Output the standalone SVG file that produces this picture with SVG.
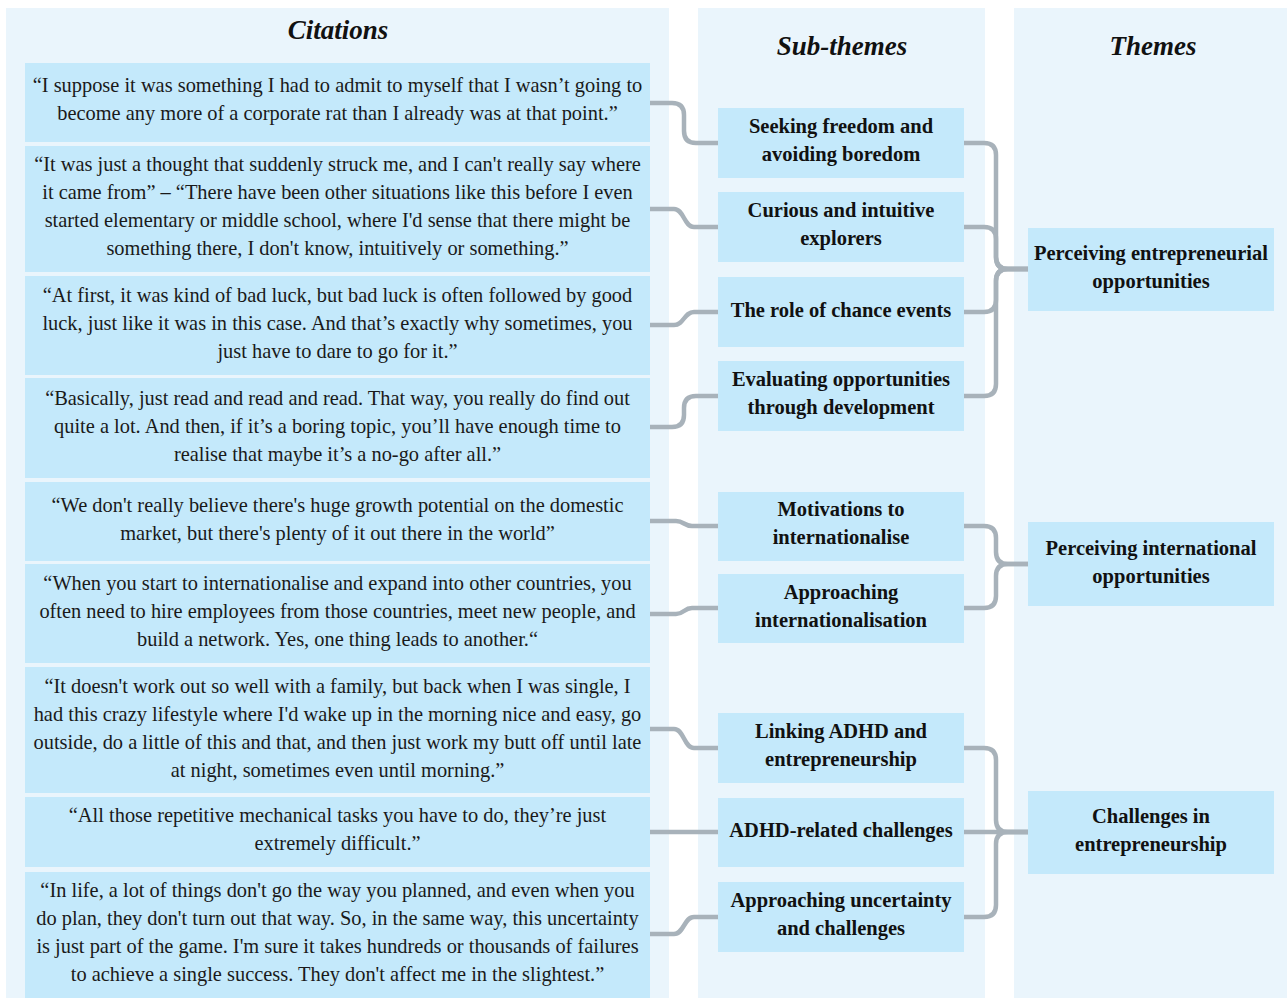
<svg xmlns="http://www.w3.org/2000/svg" width="1287" height="998" viewBox="0 0 1287 998">
  <style>
    .panel { fill: #EAF5FC; }
    .box { fill: #C4E9FB; }
    .hdr { font-family: "Liberation Serif", "Times New Roman", serif; font-size: 27px; font-weight: bold; font-style: italic; fill: #111; text-anchor: middle; }
    .cit { font-family: "Liberation Serif", "Times New Roman", serif; font-size: 20.4px; fill: #1a1a1a; text-anchor: middle; }
    .lbl { font-family: "Liberation Serif", "Times New Roman", serif; font-size: 20.5px; font-weight: bold; fill: #111; text-anchor: middle; }
    .link { fill: none; stroke: #A8B2BA; stroke-width: 4.5; stroke-linecap: round; stroke-linejoin: round; }
  </style>

  <!-- column panels -->
  <g id="panels">
    <rect class="panel" x="6" y="8" width="663" height="990"/>
    <rect class="panel" x="698" y="8" width="287" height="990"/>
    <rect class="panel" x="1014" y="8" width="273" height="990"/>
    <text class="hdr" x="338" y="39">Citations</text>
    <text class="hdr" x="842" y="55">Sub-themes</text>
    <text class="hdr" x="1153" y="55">Themes</text>
  </g>

  <!-- connectors -->
  <g id="connectors">
    <!-- citations to sub-themes -->
    <path class="link" d="M650 103 H672 Q684 103 684 115 V131 Q684 143 696 143 H718"/>
    <path class="link" d="M650 209 H674 C684 209 684 227 694 227 H718"/>
    <path class="link" d="M650 325 H674 C684 325 684 312 694 312 H718"/>
    <path class="link" d="M650 427 H672 Q684 427 684 415 V408 Q684 396 696 396 H718"/>
    <path class="link" d="M650 521 H676 C684 521 684 526 692 526 H718"/>
    <path class="link" d="M650 614 H676 C684 614 684 608 692 608 H718"/>
    <path class="link" d="M650 729 H674 C684 729 684 748 694 748 H718"/>
    <path class="link" d="M650 832 H718"/>
    <path class="link" d="M650 934 H674 C684 934 684 917 694 917 H718"/>
    <!-- sub-themes to themes -->
    <path class="link" d="M964 143 H984 Q996 143 996 155 V257 Q996 269 1008 269 H1028"/>
    <path class="link" d="M964 227 H984 Q996 227 996 239 V257 Q996 269 1008 269 H1028"/>
    <path class="link" d="M964 312 H984 Q996 312 996 300 V281 Q996 269 1008 269 H1028"/>
    <path class="link" d="M964 396 H984 Q996 396 996 384 V281 Q996 269 1008 269 H1028"/>
    <path class="link" d="M964 526 H984 Q996 526 996 538 V552 Q996 564 1008 564 H1028"/>
    <path class="link" d="M964 608 H984 Q996 608 996 596 V576 Q996 564 1008 564 H1028"/>
    <path class="link" d="M964 748 H984 Q996 748 996 760 V820 Q996 832 1008 832 H1028"/>
    <path class="link" d="M964 832 H1028"/>
    <path class="link" d="M964 917 H984 Q996 917 996 905 V844 Q996 832 1008 832 H1028"/>
  </g>

  <!-- citations -->
  <g id="cit1">
    <rect class="box" x="25" y="63" width="625" height="79"/>
    <text class="cit" x="337.5" y="92">“I suppose it was something I had to admit to myself that I wasn’t going to</text>
    <text class="cit" x="337.5" y="120">become any more of a corporate rat than I already was at that point.”</text>
  </g>
  <g id="cit2">
    <rect class="box" x="25" y="146" width="625" height="126"/>
    <text class="cit" x="337.5" y="171">“It was just a thought that suddenly struck me, and I can't really say where</text>
    <text class="cit" x="337.5" y="199">it came from” – “There have been other situations like this before I even</text>
    <text class="cit" x="337.5" y="227">started elementary or middle school, where I'd sense that there might be</text>
    <text class="cit" x="337.5" y="255">something there, I don't know, intuitively or something.”</text>
  </g>
  <g id="cit3">
    <rect class="box" x="25" y="276" width="625" height="99"/>
    <text class="cit" x="337.5" y="302">“At first, it was kind of bad luck, but bad luck is often followed by good</text>
    <text class="cit" x="337.5" y="330">luck, just like it was in this case. And that’s exactly why sometimes, you</text>
    <text class="cit" x="337.5" y="358">just have to dare to go for it.”</text>
  </g>
  <g id="cit4">
    <rect class="box" x="25" y="378" width="625" height="100"/>
    <text class="cit" x="337.5" y="405">“Basically, just read and read and read. That way, you really do find out</text>
    <text class="cit" x="337.5" y="433">quite a lot. And then, if it’s a boring topic, you’ll have enough time to</text>
    <text class="cit" x="337.5" y="461">realise that maybe it’s a no-go after all.”</text>
  </g>
  <g id="cit5">
    <rect class="box" x="25" y="482" width="625" height="79"/>
    <text class="cit" x="337.5" y="512">“We don't really believe there's huge growth potential on the domestic</text>
    <text class="cit" x="337.5" y="540">market, but there's plenty of it out there in the world”</text>
  </g>
  <g id="cit6">
    <rect class="box" x="25" y="564" width="625" height="99"/>
    <text class="cit" x="337.5" y="590">“When you start to internationalise and expand into other countries, you</text>
    <text class="cit" x="337.5" y="618">often need to hire employees from those countries, meet new people, and</text>
    <text class="cit" x="337.5" y="646">build a network. Yes, one thing leads to another.“</text>
  </g>
  <g id="cit7">
    <rect class="box" x="25" y="667" width="625" height="126"/>
    <text class="cit" x="337.5" y="693">“It doesn't work out so well with a family, but back when I was single, I</text>
    <text class="cit" x="337.5" y="721">had this crazy lifestyle where I'd wake up in the morning nice and easy, go</text>
    <text class="cit" x="337.5" y="749">outside, do a little of this and that, and then just work my butt off until late</text>
    <text class="cit" x="337.5" y="777">at night, sometimes even until morning.”</text>
  </g>
  <g id="cit8">
    <rect class="box" x="25" y="797" width="625" height="70"/>
    <text class="cit" x="337.5" y="822">“All those repetitive mechanical tasks you have to do, they’re just</text>
    <text class="cit" x="337.5" y="850">extremely difficult.”</text>
  </g>
  <g id="cit9">
    <rect class="box" x="25" y="872" width="625" height="126"/>
    <text class="cit" x="337.5" y="897">“In life, a lot of things don't go the way you planned, and even when you</text>
    <text class="cit" x="337.5" y="925">do plan, they don't turn out that way. So, in the same way, this uncertainty</text>
    <text class="cit" x="337.5" y="953">is just part of the game. I'm sure it takes hundreds or thousands of failures</text>
    <text class="cit" x="337.5" y="981">to achieve a single success. They don't affect me in the slightest.”</text>
  </g>

  <!-- sub-themes -->
  <g id="sub1">
    <rect class="box" x="718" y="108" width="246" height="70"/>
    <text class="lbl" x="841" y="133">Seeking freedom and</text>
    <text class="lbl" x="841" y="161">avoiding boredom</text>
  </g>
  <g id="sub2">
    <rect class="box" x="718" y="192" width="246" height="70"/>
    <text class="lbl" x="841" y="217">Curious and intuitive</text>
    <text class="lbl" x="841" y="245">explorers</text>
  </g>
  <g id="sub3">
    <rect class="box" x="718" y="277" width="246" height="70"/>
    <text class="lbl" x="841" y="317">The role of chance events</text>
  </g>
  <g id="sub4">
    <rect class="box" x="718" y="361" width="246" height="70"/>
    <text class="lbl" x="841" y="386">Evaluating opportunities</text>
    <text class="lbl" x="841" y="414">through development</text>
  </g>
  <g id="sub5">
    <rect class="box" x="718" y="492" width="246" height="69"/>
    <text class="lbl" x="841" y="516">Motivations to</text>
    <text class="lbl" x="841" y="544">internationalise</text>
  </g>
  <g id="sub6">
    <rect class="box" x="718" y="574" width="246" height="69"/>
    <text class="lbl" x="841" y="599">Approaching</text>
    <text class="lbl" x="841" y="627">internationalisation</text>
  </g>
  <g id="sub7">
    <rect class="box" x="718" y="713" width="246" height="70"/>
    <text class="lbl" x="841" y="738">Linking ADHD and</text>
    <text class="lbl" x="841" y="766">entrepreneurship</text>
  </g>
  <g id="sub8">
    <rect class="box" x="718" y="798" width="246" height="69"/>
    <text class="lbl" x="841" y="837">ADHD-related challenges</text>
  </g>
  <g id="sub9">
    <rect class="box" x="718" y="882" width="246" height="70"/>
    <text class="lbl" x="841" y="907">Approaching uncertainty</text>
    <text class="lbl" x="841" y="935">and challenges</text>
  </g>

  <!-- themes -->
  <g id="theme1">
    <rect class="box" x="1028" y="228" width="246" height="83"/>
    <text class="lbl" x="1151" y="260">Perceiving entrepreneurial</text>
    <text class="lbl" x="1151" y="288">opportunities</text>
  </g>
  <g id="theme2">
    <rect class="box" x="1028" y="522" width="246" height="84"/>
    <text class="lbl" x="1151" y="555">Perceiving international</text>
    <text class="lbl" x="1151" y="583">opportunities</text>
  </g>
  <g id="theme3">
    <rect class="box" x="1028" y="791" width="246" height="83"/>
    <text class="lbl" x="1151" y="823">Challenges in</text>
    <text class="lbl" x="1151" y="851">entrepreneurship</text>
  </g>
</svg>
